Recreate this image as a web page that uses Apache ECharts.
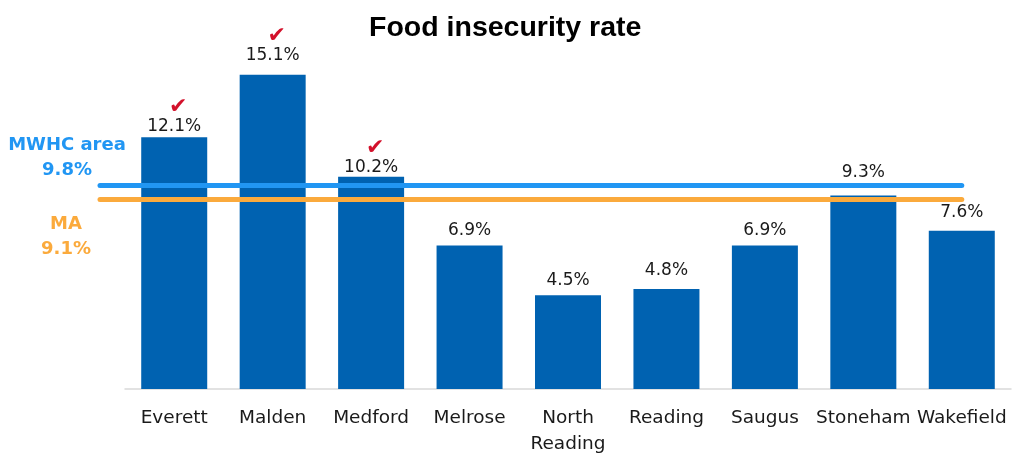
<!DOCTYPE html>
<html><head><meta charset="utf-8">
<script src="https://cdn.jsdelivr.net/npm/echarts@6/dist/echarts.min.js"></script>
<style>html,body{margin:0;padding:0;background:#fff}#c{width:1014px;height:453px}</style>
</head><body><div id="c"></div>
<script>
const categories = ['Everett','Malden','Medford','Melrose','North\nReading','Reading','Saugus','Stoneham','Wakefield'];
const rates = [12.1, 15.1, 10.2, 6.9, 4.5, 4.8, 6.9, 9.3, 7.6];
const checked = [true, true, true, false, false, false, false, false, false];
const refNames = ['MWHC area', 'MA'];
const refValues = [9.8, 9.1];
const refColors = ['#2196F3', '#FBAA3C'];
const titleText = 'Food insecurity rate';
// label gap above each bar (styling only)
const labelGaps = [0.5, 9, -1, 5, 5, 9, 5, 13, 8];

const chart = echarts.init(document.getElementById('c'), null, {renderer: 'canvas'});
const option = {
  animation: false,
  backgroundColor: '#fff',
  title: {
    text: titleText, left: 364, top: 9,
    textStyle: {fontSize: 28.5, fontWeight: 'bold', fontFamily: 'Liberation Sans', color: '#000'}
  },
  grid: {left: 125, right: 3, top: 56, bottom: 64, containLabel: false, outerBoundsMode: 'none'},
  xAxis: {
    type: 'category', data: categories,
    axisLine: {lineStyle: {color: '#D9D9D9', width: 1.5}},
    axisTick: {show: false},
    axisLabel: {fontSize: 18.5, fontFamily: 'DejaVu Sans', color: '#1a1a1a', margin: 16, lineHeight: 26, interval: 0}
  },
  yAxis: {type: 'value', min: 0, max: 16, show: false, splitLine: {show: false}},
  series: [{
    type: 'bar', barWidth: 66,
    data: rates.map((v, i) => ({value: v, label: {distance: labelGaps[i]}})),
    itemStyle: {color: '#0062B1'},
    label: {
      show: true, position: 'top', distance: 5,
      formatter: p => (checked[p.dataIndex] ? '{c|\u2714}\n' : '') + '{v|' + p.value.toFixed(1) + '%}',
      rich: {
        c: {color: '#D3112B', fontSize: 22, lineHeight: 19, padding: [0, 0, 0, 8], fontFamily: 'DejaVu Sans'},
        v: {color: '#1a1a1a', fontSize: 17, lineHeight: 20, fontFamily: 'DejaVu Sans'}
      }
    },
    markLine: {
      silent: true, symbol: 'none', z: 10, animation: false,
      label: {show: false},
      data: refValues.map((v, i) => [
        {x: 100, yAxis: v, lineStyle: {color: refColors[i], width: 5, type: 'solid', cap: 'round'}},
        {xAxis: categories.length - 1, yAxis: v}
      ])
    }
  }]
};
chart.setOption(option);
const yB = chart.convertToPixel({yAxisIndex: 0}, refValues[0]);
const yO = chart.convertToPixel({yAxisIndex: 0}, refValues[1]);
chart.setOption({
  graphic: [
    {type: 'text', x: 67, y: yB - 27, style: {text: refNames[0] + '\n' + refValues[0].toFixed(1) + '%', fill: refColors[0],
      font: 'bold 18px "DejaVu Sans"', align: 'center', verticalAlign: 'middle', lineHeight: 25}},
    {type: 'text', x: 66, y: yO + 37, style: {text: refNames[1] + '\n' + refValues[1].toFixed(1) + '%', fill: refColors[1],
      font: 'bold 18px "DejaVu Sans"', align: 'center', verticalAlign: 'middle', lineHeight: 25}}
  ]
});
</script></body></html>
